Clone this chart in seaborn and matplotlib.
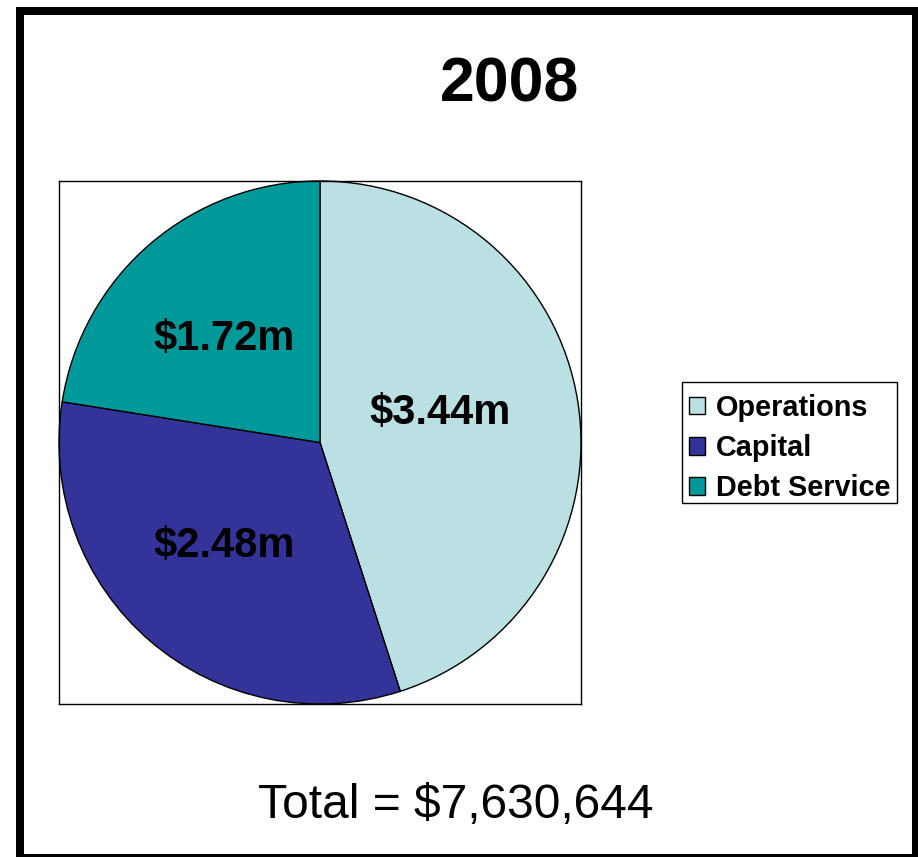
import matplotlib
matplotlib.use("Agg")
import matplotlib.pyplot as plt
import seaborn as sns
from matplotlib.patches import Rectangle, Patch

categories = ["Operations", "Capital", "Debt Service"]
values_m = [3.44, 2.48, 1.72]
labels = ["$3.44m", "$2.48m", "$1.72m"]
colors = ["#BBE0E3", "#333399", "#009999"]
title = "2008"
total_text = "Total = $7,630,644"

sns.set_theme(style="white")
plt.rcParams["font.family"] = ["Liberation Sans", "DejaVu Sans"]
plt.rcParams["text.color"] = "black"

W, H = 918, 857
fig = plt.figure(figsize=(W / 100, H / 100), dpi=100)
fig.patch.set_facecolor("white")

ax = fig.add_axes([59 / W, 1 - 704 / H, 522 / W, 523 / H])
label_iter = iter(labels)
wedges, texts, autotexts = ax.pie(
    values_m,
    colors=colors,
    startangle=90,
    counterclock=False,
    autopct=lambda p: next(label_iter),
    pctdistance=0.52,
    wedgeprops=dict(edgecolor="black", linewidth=1.0),
    textprops=dict(fontsize=30, fontweight="bold", color="black"),
    frame=True,
)
# small nudges to match the reference label placement (axes data units)
nudges = [(-0.055, 0.03), (-0.03, 0.0), (-0.03, 0.0)]
for t, (dx, dy) in zip(autotexts, nudges):
    x, y = t.get_position()
    t.set_position((x + dx, y + dy))
ax.set_xlim(-1, 1)
ax.set_ylim(-1, 1)
ax.set_xticks([])
ax.set_yticks([])
ax.set_aspect("auto")
for s in ax.spines.values():
    s.set_visible(True)
    s.set_color("black")
    s.set_linewidth(1.0)

fig.text(510 / W, 1 - 101 / H, title, ha="center", va="baseline",
         fontsize=45, fontweight="bold", color="black")
fig.text(456 / W, 1 - 818 / H, total_text, ha="center", va="baseline",
         fontsize=34.5, color="black")

handles = [Patch(facecolor=c, edgecolor="black", linewidth=1.0) for c in colors]
leg = fig.legend(handles, categories, loc="upper left",
                 bbox_to_anchor=(689 / W, 1 - 394 / H),
                 bbox_transform=fig.transFigure,
                 prop=dict(size=20.8, weight="bold"),
                 labelcolor="black",
                 frameon=False,
                 handlelength=0.55, handleheight=0.55, handletextpad=0.38,
                 labelspacing=0.42, borderpad=0, borderaxespad=0)

legend_box = Rectangle((682 / W, 1 - 503 / H), (897 - 682) / W, (503 - 382) / H,
                       transform=fig.transFigure, fill=False,
                       edgecolor="black", linewidth=1.0, zorder=5)
fig.patches.append(legend_box)

border = Rectangle((20 / W, 1 - 858 / H), (916 - 20) / W, (858 - 11) / H,
                   transform=fig.transFigure, fill=False,
                   edgecolor="black", linewidth=8 * 0.72, zorder=10)
fig.patches.append(border)

fig.savefig("out.png", dpi=100, facecolor="white")
